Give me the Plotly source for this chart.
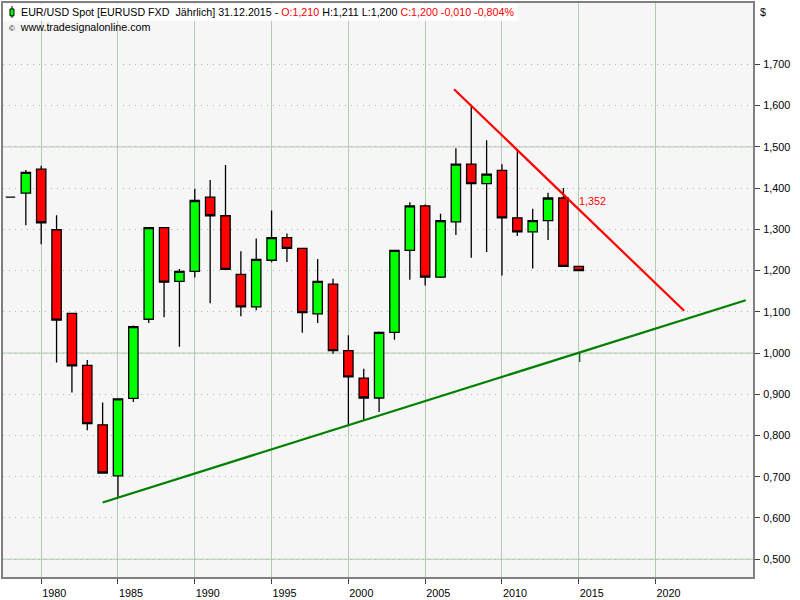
import plotly.graph_objects as go

# ---------------- data ----------------
YEARS = list(range(1978, 2016))
OPEN = [1.378, 1.388, 1.446, 1.299, 1.096, 0.970, 0.826, 0.702, 0.890, 1.082,
        1.304, 1.174, 1.198, 1.378, 1.333, 1.191, 1.112, 1.225, 1.280, 1.254,
        1.095, 1.167, 1.006, 0.939, 0.891, 1.050, 1.249, 1.357, 1.184, 1.318,
        1.458, 1.411, 1.443, 1.328, 1.294, 1.321, 1.376, 1.210]
HIGH = [1.378, 1.444, 1.454, 1.334, 1.096, 0.983, 0.880, 0.889, 1.067, 1.304,
        1.304, 1.204, 1.398, 1.420, 1.456, 1.247, 1.278, 1.346, 1.290, 1.254,
        1.228, 1.180, 1.043, 0.962, 1.052, 1.249, 1.366, 1.360, 1.338, 1.497,
        1.602, 1.516, 1.458, 1.492, 1.350, 1.389, 1.400, 1.211]
LOW = [1.378, 1.310, 1.264, 0.977, 0.904, 0.813, 0.709, 0.650, 0.881, 1.073,
       1.087, 1.015, 1.183, 1.121, 1.203, 1.089, 1.104, 1.220, 1.221, 1.049,
       1.073, 0.998, 0.823, 0.838, 0.857, 1.032, 1.178, 1.164, 1.182, 1.286,
       1.231, 1.245, 1.188, 1.284, 1.205, 1.274, 1.210, 1.200]
CLOSE = [1.378, 1.438, 1.316, 1.080, 0.969, 0.829, 0.709, 0.889, 1.064, 1.304,
         1.172, 1.198, 1.370, 1.333, 1.203, 1.112, 1.227, 1.280, 1.254, 1.098,
         1.174, 1.006, 0.942, 0.891, 1.050, 1.249, 1.357, 1.184, 1.321, 1.458,
         1.411, 1.434, 1.328, 1.294, 1.321, 1.376, 1.210, 1.200]

SUPPORT_X = [1984.0, 2025.87]
SUPPORT_Y = [0.6376, 1.128]
RESIST_X = [2006.88, 2021.86]
RESIST_Y = [1.640, 1.1024]
MARKER_X = [2015.06, 2015.06]
MARKER_Y = [1.000, 0.978]
RESIST_LABEL_X = 2015
RESIST_LABEL_Y = 1.352
RESIST_LABEL = "1,352"

X_TICKS = [1980, 1985, 1990, 1995, 2000, 2005, 2010, 2015, 2020]
X_LABELS = [str(v) for v in X_TICKS]
Y_TICKS = [0.5, 0.6, 0.7, 0.8, 0.9, 1.0, 1.1, 1.2, 1.3, 1.4, 1.5, 1.6, 1.7]
Y_SOLID = [0.5, 1.0, 1.5]

X_RANGE = [1977.513, 2026.344]
Y_RANGE = [0.4568, 1.849]

# ---------------- layout helpers (pixel -> paper) ----------------
W, H = 800, 600
ML, MR, MT, MB = 1, 47, 2, 18
PW, PH = W - ML - MR, H - MT - MB


def px(x):
    return (x - ML) / PW


def py(y):
    return 1 - (y - MT) / PH


FONT = "Liberation Sans, Arial, sans-serif"
GRID = "#b4c8b4"
AXIS = "#808080"

fig = go.Figure()

fig.add_trace(go.Candlestick(
    x=YEARS, open=OPEN, high=HIGH, low=LOW, close=CLOSE,
    increasing=dict(fillcolor="#00ff00", line=dict(color="#000000", width=1.3)),
    decreasing=dict(fillcolor="#ff0000", line=dict(color="#000000", width=1.3)),
    whiskerwidth=0, hoverinfo="skip", showlegend=False,
))

fig.add_trace(go.Scatter(x=SUPPORT_X, y=SUPPORT_Y, mode="lines",
                         line=dict(color="#008000", width=2.2),
                         hoverinfo="skip", showlegend=False))
fig.add_trace(go.Scatter(x=RESIST_X, y=RESIST_Y, mode="lines",
                         line=dict(color="#ff0000", width=2.2),
                         hoverinfo="skip", showlegend=False))
fig.add_trace(go.Scatter(x=MARKER_X, y=MARKER_Y, mode="lines",
                         line=dict(color="#006000", width=1.2),
                         hoverinfo="skip", showlegend=False))

shapes = []
for v in Y_SOLID:
    shapes.append(dict(type="line", xref="paper", yref="y", x0=0, x1=1, y0=v, y1=v,
                       line=dict(color=GRID, width=1), layer="below"))
# header box
shapes.append(dict(type="rect", xref="paper", yref="paper",
                   x0=px(1), x1=px(517), y0=py(20), y1=py(3),
                   fillcolor="white", line=dict(width=0), layer="above"))
# header icon (small candle)
shapes.append(dict(type="line", xref="paper", yref="paper",
                   x0=px(10), x1=px(10), y0=py(17), y1=py(5),
                   line=dict(color="black", width=1), layer="above"))
shapes.append(dict(type="rect", xref="paper", yref="paper",
                   x0=px(8), x1=px(12), y0=py(15), y1=py(8),
                   fillcolor="#00ff00", line=dict(color="black", width=1), layer="above"))

annotations = [
    dict(xref="paper", yref="paper", x=px(17.5), y=py(11.5), xanchor="left", yanchor="middle",
         showarrow=False, font=dict(family=FONT, size=10.7, color="black"),
         text=("EUR/USD Spot [EURUSD FXD\u00a0\u00a0Jährlich] 31.12.2015 - "
               "<span style='color:#ff0000'>O:1,210</span> H:1,211 L:1,200 "
               "<span style='color:#ff0000'>C:1,200 -0,010 -0,804%</span>")),
    dict(xref="paper", yref="paper", x=px(5), y=py(26), xanchor="left", yanchor="middle",
         showarrow=False, font=dict(family=FONT, size=10.7, color="black"),
         text="<span style='font-size:8px'>©</span>\u00a0\u00a0www.tradesignalonline.com"),
    dict(xref="paper", yref="paper", x=px(758), y=py(11), xanchor="left", yanchor="middle",
         showarrow=False, font=dict(family=FONT, size=10.8, color="black"), text="$"),
    dict(x=RESIST_LABEL_X, y=RESIST_LABEL_Y, xref="x", yref="y", xanchor="left", yanchor="middle",
         xshift=-2, yshift=7, showarrow=False,
         font=dict(family=FONT, size=10.8, color="#ff0000"), text=RESIST_LABEL),
]

fig.update_layout(
    width=W, height=H,
    margin=dict(l=ML, r=MR, t=MT, b=MB, pad=0),
    paper_bgcolor="white", plot_bgcolor="#f6f6f6",
    separators=",.",
    boxgap=0.22, boxgroupgap=0.22,
    showlegend=False,
    font=dict(family=FONT, size=10.8, color="black"),
    shapes=shapes, annotations=annotations,
    xaxis=dict(
        range=X_RANGE, tickvals=X_TICKS, ticktext=X_LABELS,
        showgrid=True, gridcolor=GRID, gridwidth=1,
        showline=True, linecolor=AXIS, linewidth=2, mirror=True,
        ticks="outside", ticklen=5, tickcolor="#404040", tickwidth=1,
        ticklabelshift=13, ticklabelstandoff=0,
        tickfont=dict(family=FONT, size=10.8, color="black"),
        zeroline=False, rangeslider=dict(visible=False), fixedrange=True,
    ),
    yaxis=dict(
        range=Y_RANGE, side="right", tickvals=Y_TICKS, tickformat=".3f",
        showgrid=True, gridcolor="#a8b8a8", gridwidth=1, griddash="1px,5px",
        showline=True, linecolor=AXIS, linewidth=2, mirror=True,
        ticks="outside", ticklen=5, tickcolor="#404040", tickwidth=1,
        ticklabelstandoff=1,
        tickfont=dict(family=FONT, size=10.8, color="black"),
        zeroline=False, fixedrange=True,
    ),
)

fig.write_html(
    "out.html",
    config={"displayModeBar": False, "staticPlot": True},
    post_script="document.body.style.margin='0';document.body.style.overflow='hidden';",
)
